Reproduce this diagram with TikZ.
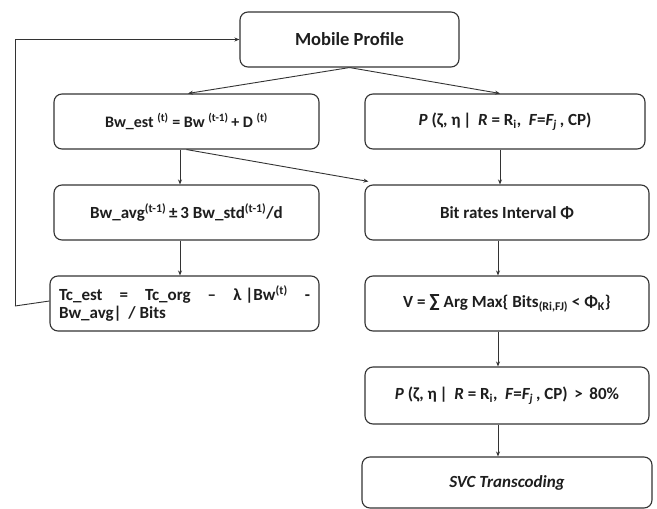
\documentclass[tikz,border=0pt]{standalone}
\usepackage{fontspec}
\setmainfont{Carlito}
\usetikzlibrary{arrows.meta}
\definecolor{ln}{HTML}{333333}
\definecolor{tx}{HTML}{1E1E1E}
\tikzset{
  box/.style={draw=ln, line width=1.1pt, rounded corners=8pt, align=center,
    inner sep=0pt, text=tx, font=\fontsize{17}{19}\selectfont\bfseries},
  arr/.style={draw=ln, line width=0.9pt, -{Stealth[length=5pt,width=4pt]}},
  lnk/.style={draw=ln, line width=0.9pt}
}
\begin{document}
\begin{tikzpicture}[x=1pt,y=-1pt]
\useasboundingbox[fill=white] (0,0) rectangle (657,509);
\node[box, minimum width=219pt, minimum height=55pt, font=\fontsize{18.5}{20}\selectfont\bfseries] (mp) at (349.5,39.5) {Mobile Profile};
\node[box, minimum width=265pt, minimum height=55pt, font=\fontsize{16}{19}\selectfont\bfseries] (bwe) at (186.5,121.5)
  {Bw\_est \textsuperscript{(t)} = Bw \textsuperscript{(t-1)}\,+ D \textsuperscript{(t)}};
\node[box, minimum width=280pt, minimum height=55pt] (pp) at (505,121.5)
  {\textit{P} (ζ, η\,|\, \textit{R} = R\textsubscript{i}, \ \textit{F}=\textit{F\textsubscript{j}}\,, CP)};
\node[box, minimum width=265pt, minimum height=55pt] (bwa) at (186.5,212.5)
  {Bw\_avg\textsuperscript{(t-1)}\,±\,3 Bw\_std\textsuperscript{(t-1)}/d};
\node[box, minimum width=284pt, minimum height=55pt] (br) at (507,212.5)
  {Bit rates Interval Φ};
\node[box, minimum width=269pt, minimum height=55pt, align=left] (tc) at (184.5,303.5)
  {\makebox[251pt][s]{Tc\_est = Tc\_org – \mbox{λ |Bw\textsuperscript{(t)}} -}\\[-1pt]
   \makebox[251pt][l]{Bw\_avg| \,/ Bits}};
\node[box, minimum width=284pt, minimum height=55pt] (v) at (507,303.5)
  {V = {\fontsize{19}{19}\selectfont ∑} Arg Max\{ Bits\textsubscript{(Ri,FJ)} < Φ\textsubscript{K}\}};
\node[box, minimum width=284pt, minimum height=57pt] (p80) at (507,395.5)
  {\textit{P} (ζ, η\,|\, \textit{R} = R\textsubscript{i}, \ \textit{F}=\textit{F\textsubscript{j}}\,, CP) \,>\, 80\%};
\node[box, minimum width=290pt, minimum height=51pt] (svc) at (507,482.5)
  {\textit{SVC Transcoding}};
\coordinate (fb) at (15,306);
\draw[arr] (mp.south) -- ([xshift=1.5pt]bwe.north);
\draw[arr] (mp.south) -- ([xshift=-5pt]pp.north);
\draw[arr] ([xshift=-6.5pt]bwe.south) -- ([xshift=-6.5pt]bwa.north);
\draw[arr] (bwe.south) -- ([xshift=4pt,yshift=3pt]br.north west);
\draw[arr] ([xshift=-5pt]pp.south) -- ([xshift=-7pt]br.north);
\draw[arr] ([xshift=-6.5pt]bwa.south) -- ([xshift=-4.5pt]tc.north);
\draw[arr] ([xshift=-9pt]br.south) -- ([xshift=-9pt]v.north);
\draw[arr] ([xshift=-9pt]v.south) -- ([xshift=-9pt]p80.north);
\draw[arr] ([xshift=-9pt]p80.south) -- ([xshift=-9pt]svc.north);
\draw[lnk] ([yshift=2.5pt]tc.west) -- (fb);
\draw[arr] (fb) |- (mp.west);
\end{tikzpicture}
\end{document}
